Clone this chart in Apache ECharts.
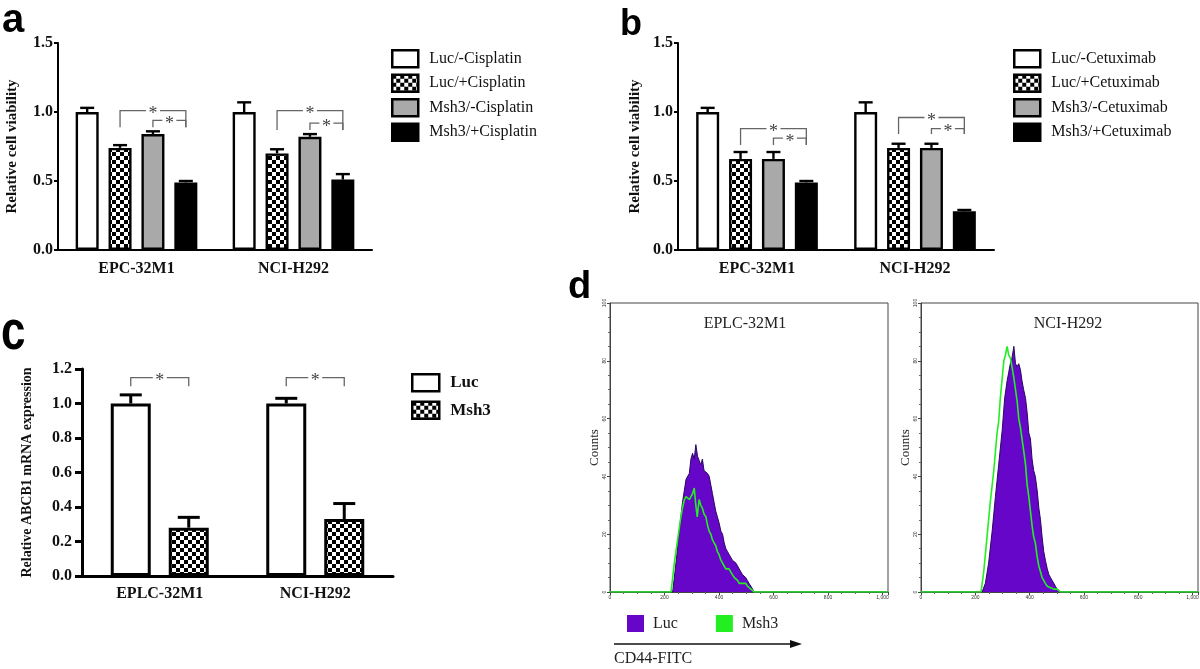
<!DOCTYPE html>
<html>
<head>
<meta charset="utf-8">
<script src="https://cdn.jsdelivr.net/npm/echarts@6/dist/echarts.min.js"></script>
<style>
html,body{margin:0;padding:0;background:#fff;width:1200px;height:669px;overflow:hidden;}
.p{position:absolute;left:0;top:0;width:1200px;height:669px;}
</style>
</head>
<body>
<div id="ca" class="p"></div>
<div id="cb" class="p"></div>
<div id="cc" class="p"></div>
<div id="cd" class="p"></div>
<script>
// ---------------- DATA ----------------
const groupsAB = ['EPC-32M1', 'NCI-H292'];
const namesA = ['Luc/-Cisplatin', 'Luc/+Cisplatin', 'Msh3/-Cisplatin', 'Msh3/+Cisplatin'];
const meanA = [[1.00, 1.00], [0.74, 0.70], [0.84, 0.82], [0.49, 0.51]];
const errA  = [[0.03, 0.07], [0.02, 0.03], [0.02, 0.02], [0.01, 0.04]];
// [group, fromBar, toBar, topValue, legBottomValue]
const bracketsA = [[0, 1, 3, 1.01, 0.89], [0, 2, 3, 0.94, 0.89], [1, 1, 3, 1.01, 0.87], [1, 2, 3, 0.92, 0.87]];

const namesB = ['Luc/-Cetuximab', 'Luc/+Cetuximab', 'Msh3/-Cetuximab', 'Msh3/+Cetuximab'];
const meanB = [[1.00, 1.00], [0.66, 0.74], [0.66, 0.74], [0.49, 0.28]];
const errB  = [[0.03, 0.07], [0.05, 0.03], [0.05, 0.03], [0.01, 0.01]];
const bracketsB = [[0, 1, 3, 0.88, 0.76], [0, 2, 3, 0.81, 0.76], [1, 1, 3, 0.96, 0.84], [1, 2, 3, 0.88, 0.84]];

const groupsC = ['EPLC-32M1', 'NCI-H292'];
const namesC = ['Luc', 'Msh3'];
const meanC = [[1.00, 1.00], [0.28, 0.33]];
const errC  = [[0.05, 0.03], [0.06, 0.09]];
const bracketsC = [[0, 0, 1, 1.15, 1.10], [1, 0, 1, 1.15, 1.10]];

const histTitles = ['EPLC-32M1', 'NCI-H292'];
const histNames = ['Luc', 'Msh3'];
// [channel, counts]
const lucLeft = [[0,0],[230,0],[242,10],[254,21],[266,31],[279,39],[291,41],[297,46],[303,48],[309,46],[315,51],[321,47],[327,47],[333,44],[339,46],[345,42],[352,42],[358,41],[364,40],[370,37],[376,34],[382,31],[388,28],[394,26],[400,24],[407,21],[413,20],[419,17],[425,15],[431,14],[437,13],[443,12],[449,11],[456,11],[462,10],[468,9],[474,8],[480,7],[486,6],[492,6],[498,5],[504,4],[510,3],[517,2],[523,1],[529,0],[1020,0]];
const mshLeft = [[0,0],[224,0],[236,10],[248,18],[260,26],[266,29],[273,32],[279,33],[285,33],[291,32],[297,33],[303,34],[309,36],[315,30],[320,26],[327,32],[333,30],[339,29],[345,27],[352,26],[358,23],[364,21],[370,20],[376,18],[382,17],[388,16],[394,14],[400,13],[407,11],[413,10],[419,9],[425,8],[431,8],[437,8],[443,7],[449,6],[456,5],[462,5],[468,4],[474,3],[480,3],[486,3],[492,3],[498,3],[504,2],[510,2],[517,1],[523,1],[529,0],[1020,0]];
const lucRight = [[0,0],[225,0],[237,3],[249,10],[262,21],[274,33],[286,44],[299,56],[308,67],[317,73],[323,76],[329,79],[335,81],[342,85],[348,79],[354,78],[360,79],[366,77],[372,73],[378,70],[385,67],[391,62],[397,55],[403,53],[409,46],[415,42],[421,40],[428,35],[434,29],[440,25],[446,19],[452,14],[458,11],[465,8],[471,6],[477,5],[483,4],[489,3],[495,2],[501,1],[507,1],[514,0],[1020,0]];
const mshRight = [[0,0],[221,0],[231,7],[243,19],[255,31],[268,42],[280,55],[286,59],[292,67],[299,74],[305,80],[311,82],[317,85],[323,82],[329,81],[335,78],[342,74],[348,70],[354,66],[360,60],[366,57],[372,53],[378,49],[385,44],[391,37],[397,33],[403,28],[409,23],[415,19],[421,17],[428,12],[434,9],[440,7],[446,5],[452,4],[458,3],[465,2],[477,1.5],[489,1],[501,1],[514,0],[1020,0]];

// ---------------- STYLE HELPERS ----------------
const SERIF = "'Liberation Serif','Times New Roman',serif";
const SANS = "'Liberation Sans',Arial,sans-serif";
function checker() {
  const c = document.createElement('canvas'); c.width = 8; c.height = 8;
  const x = c.getContext('2d');
  x.fillStyle = '#fff'; x.fillRect(0, 0, 8, 8);
  x.fillStyle = '#000'; x.fillRect(0, 0, 4, 4); x.fillRect(4, 4, 4, 4);
  return c;
}
const CHECK = { image: checker(), repeat: 'repeat' };
const fills4 = ['#ffffff', CHECK, '#a9a9a9', '#000000'];
const fills2 = ['#ffffff', CHECK];
const BRK = '#666666';

function barPanel(p) {
  const n = p.names.length;
  const off = i => (i - (n - 1) / 2) * p.barW * (1 + p.gap);
  const series = [];
  p.names.forEach((nm, i) => {
    series.push({
      type: 'bar', name: nm, data: p.means[i], barWidth: p.barW, barGap: (p.gap * 100) + '%',
      itemStyle: { color: p.fills[i], borderColor: '#000', borderWidth: p.bw }, z: 2, silent: true
    });
  });
  p.names.forEach((nm, i) => {
    series.push({
      type: 'custom', silent: true, z: 3, encode: { x: 0, y: 1 },
      data: p.means[i].map((m, g) => [g, m, p.errs[i][g]]),
      renderItem: (params, api) => {
        const g = api.value(0), m = api.value(1), e = api.value(2);
        const a = api.coord([g, m]), b = api.coord([g, m + e]);
        const x = a[0] + off(i), hw = p.capW / 2;
        const st = { stroke: '#000', lineWidth: p.bw, fill: null };
        return { type: 'group', children: [
          { type: 'line', shape: { x1: x, y1: a[1], x2: x, y2: b[1] }, style: st },
          { type: 'line', shape: { x1: x - hw, y1: b[1], x2: x + hw, y2: b[1] }, style: st }
        ] };
      }
    });
  });
  series.push({
    type: 'custom', silent: true, z: 4, encode: { x: 0, y: 3 },
    data: p.brackets,
    renderItem: (params, api) => {
      const g = api.value(0), b0 = api.value(1), b1 = api.value(2), top = api.value(3), bot = api.value(4);
      const c = api.coord([g, top]), cb = api.coord([g, bot]);
      const x0 = c[0] + off(b0), x1 = c[0] + off(b1), yT = c[1], yB = cb[1], xm = (x0 + x1) / 2;
      const st = { stroke: BRK, lineWidth: 1.3, fill: null };
      return { type: 'group', children: [
        { type: 'polyline', shape: { points: [[x0, yB], [x0, yT], [xm - 7, yT]] }, style: st },
        { type: 'polyline', shape: { points: [[xm + 7, yT], [x1, yT], [x1, yB]] }, style: st },
        { type: 'text', style: { text: '*', x: xm, y: yT + 4, align: 'center', verticalAlign: 'middle',
          textAlign: 'center', textVerticalAlign: 'middle', font: '18px ' + SERIF, fill: '#444' } }
      ] };
    }
  });
  const boldTxt = (s) => ({ fontFamily: SERIF, fontWeight: 'bold', fontSize: s, color: '#111' });
  return {
    animation: false, backgroundColor: 'transparent',
    grid: { left: p.left, top: p.top, width: p.width, height: p.height, containLabel: false, outerBoundsMode: 'none' },
    xAxis: {
      type: 'category', data: p.groups,
      axisLine: { lineStyle: { color: '#000', width: p.aw } },
      axisTick: { alignWithLabel: true, length: 6, lineStyle: { color: '#000', width: p.aw } },
      axisLabel: Object.assign({ margin: p.xMargin, interval: 0 }, boldTxt(16))
    },
    yAxis: {
      type: 'value', min: 0, max: p.yMax, interval: p.yInt,
      name: p.yName, nameLocation: 'middle', nameGap: p.nameGap,
      nameTextStyle: boldTxt(p.nameSize),
      axisLine: { show: true, lineStyle: { color: '#000', width: p.aw } },
      axisTick: { show: true, length: p.tl, lineStyle: { color: '#000', width: p.aw } },
      splitLine: { show: false },
      axisLabel: Object.assign({ margin: p.yMargin, formatter: v => v.toFixed(1) }, boldTxt(16))
    },
    legend: {
      orient: 'vertical', left: p.legLeft, top: p.legTop, padding: 0, itemWidth: p.legW, itemHeight: 17, itemGap: p.legGap,
      icon: 'rect', selectedMode: false, data: p.names,
      itemStyle: { borderColor: '#000', borderWidth: 2.5 },
      textStyle: { fontFamily: SERIF, fontSize: p.legFont, fontWeight: p.legWeight, color: '#111', padding: [0, 0, 0, 6] }
    },
    series
  };
}

const optA = barPanel({
  left: 58, top: 43, width: 314, height: 207, yMax: 1.5, yInt: 0.5,
  groups: groupsAB, names: namesA, means: meanA, errs: errA, brackets: bracketsA, fills: fills4,
  barW: 23, gap: 0.43, capW: 14, bw: 2.4, aw: 2, tl: 4, yMargin: 5, xMargin: 11,
  yName: 'Relative cell viability', nameGap: 38, nameSize: 15,
  legLeft: 391, legTop: 49, legW: 26, legGap: 5, legFont: 16, legWeight: 'normal'
});
const optB = barPanel({
  left: 678, top: 43, width: 316, height: 207, yMax: 1.5, yInt: 0.5,
  groups: groupsAB, names: namesB, means: meanB, errs: errB, brackets: bracketsB, fills: fills4,
  barW: 23, gap: 0.43, capW: 14, bw: 2.4, aw: 2, tl: 4, yMargin: 5, xMargin: 11,
  yName: 'Relative cell viability', nameGap: 35, nameSize: 15,
  legLeft: 1013, legTop: 49, legW: 26, legGap: 5, legFont: 16, legWeight: 'normal'
});
const optC = barPanel({
  left: 82, top: 369, width: 311, height: 207, yMax: 1.2, yInt: 0.2,
  groups: groupsC, names: namesC, means: meanC, errs: errC, brackets: bracketsC, fills: fills2,
  barW: 40, gap: 0.45, capW: 22, bw: 3, aw: 3, tl: 7, yMargin: 10, xMargin: 10,
  yName: 'Relative ABCB1 mRNA expression', nameGap: 48, nameSize: 14,
  legLeft: 411, legTop: 373, legW: 27, legGap: 8, legFont: 17, legWeight: 'bold'
});

// ---------------- PANEL D ----------------
const PURPLE = '#6606c8', GREEN = '#22ee22';
const histGrids = [{ left: 610, width: 278 }, { left: 921, width: 277 }];
const optD = {
  animation: false, backgroundColor: 'transparent',
  grid: histGrids.map(g => ({ left: g.left, top: 303, width: g.width, height: 289, show: true,
    borderColor: '#444', borderWidth: 1, backgroundColor: 'transparent', containLabel: false, outerBoundsMode: 'none' })),
  xAxis: histGrids.map((g, i) => ({
    gridIndex: i, type: 'value', min: 0, max: 1020, interval: 200,
    axisLine: { show: true, onZero: false, lineStyle: { color: '#444', width: 1 } },
    axisTick: { show: true, length: 3, lineStyle: { color: '#444' } },
    minorTick: { show: true, splitNumber: 4, length: 2, lineStyle: { color: '#666' } },
    splitLine: { show: false },
    axisLabel: { fontSize: 5, margin: 3, color: '#333', showMaxLabel: false, fontFamily: SANS }
  })),
  yAxis: histGrids.map((g, i) => ({
    gridIndex: i, type: 'value', min: 0, max: 100, interval: 20,
    name: 'Counts', nameLocation: 'middle', nameGap: 9,
    nameTextStyle: { fontFamily: SERIF, fontSize: 13, color: '#222' },
    axisLine: { show: true, onZero: false, lineStyle: { color: '#444', width: 1 } },
    axisTick: { show: true, length: 3, lineStyle: { color: '#444' } },
    minorTick: { show: true, splitNumber: 4, length: 2, lineStyle: { color: '#666' } },
    splitLine: { show: false },
    axisLabel: { fontSize: 5, margin: 3, color: '#333', rotate: 90, fontFamily: SANS }
  })),
  legend: {
    left: 627, top: 615, padding: 0, itemWidth: 17, itemHeight: 17, itemGap: 38, icon: 'rect', selectedMode: false,
    data: [
      { name: histNames[0], itemStyle: { color: PURPLE, borderWidth: 0 } },
      { name: histNames[1], itemStyle: { color: GREEN, borderWidth: 0 } }
    ],
    textStyle: { fontFamily: SERIF, fontSize: 16, color: '#222', padding: [0, 0, 0, 4] }
  },
  series: [
    { type: 'line', name: histNames[0], xAxisIndex: 0, yAxisIndex: 0, data: lucLeft, symbol: 'none', silent: true,
      itemStyle: { color: PURPLE }, lineStyle: { color: '#2a0860', width: 1 }, areaStyle: { color: PURPLE, opacity: 1 }, z: 2 },
    { type: 'line', name: histNames[1], xAxisIndex: 0, yAxisIndex: 0, data: mshLeft, symbol: 'none', silent: true,
      itemStyle: { color: GREEN }, lineStyle: { color: GREEN, width: 1.6 }, z: 3 },
    { type: 'line', name: histNames[0], xAxisIndex: 1, yAxisIndex: 1, data: lucRight, symbol: 'none', silent: true,
      itemStyle: { color: PURPLE }, lineStyle: { color: '#2a0860', width: 1 }, areaStyle: { color: PURPLE, opacity: 1 }, z: 2 },
    { type: 'line', name: histNames[1], xAxisIndex: 1, yAxisIndex: 1, data: mshRight, symbol: 'none', silent: true,
      itemStyle: { color: GREEN }, lineStyle: { color: GREEN, width: 1.6 }, z: 3 }
  ],
  graphic: [
    { type: 'text', x: 745, y: 324, style: { text: histTitles[0], font: '16px ' + SERIF, fill: '#222', align: 'center', verticalAlign: 'middle', textAlign: 'center', textVerticalAlign: 'middle' } },
    { type: 'text', x: 1068, y: 324, style: { text: histTitles[1], font: '16px ' + SERIF, fill: '#222', align: 'center', verticalAlign: 'middle', textAlign: 'center', textVerticalAlign: 'middle' } },
    { type: 'line', shape: { x1: 614, y1: 644, x2: 792, y2: 644 }, style: { stroke: '#111', lineWidth: 1.5 } },
    { type: 'polygon', shape: { points: [[790, 640], [802, 644], [790, 648]] }, style: { fill: '#111' } },
    { type: 'text', x: 614, y: 659, style: { text: 'CD44-FITC', font: '16px ' + SERIF, fill: '#222', align: 'left', verticalAlign: 'middle', textAlign: 'left', textVerticalAlign: 'middle' } },
    // panel letters
    { type: 'text', x: 2, y: 21, style: { text: 'a', font: 'bold 40px ' + SANS, fill: '#000', verticalAlign: 'middle', textVerticalAlign: 'middle' } },
    { type: 'text', x: 620, y: 25, style: { text: 'b', font: 'bold 36px ' + SANS, fill: '#000', verticalAlign: 'middle', textVerticalAlign: 'middle' } },
    { type: 'text', x: 1, y: 334, scaleY: 1.4, scaleX: 1.1, style: { text: 'c', x: 0, y: 0, font: 'bold 40px ' + SANS, fill: '#000', verticalAlign: 'middle', textVerticalAlign: 'middle' } },
    { type: 'text', x: 568, y: 288, style: { text: 'd', font: 'bold 38px ' + SANS, fill: '#000', verticalAlign: 'middle', textVerticalAlign: 'middle' } }
  ]
};

[['ca', optA], ['cb', optB], ['cc', optC], ['cd', optD]].forEach(([id, opt]) => {
  const ch = echarts.init(document.getElementById(id), null, { renderer: 'canvas', width: 1200, height: 669 });
  ch.setOption(opt);
});
</script>
</body>
</html>
